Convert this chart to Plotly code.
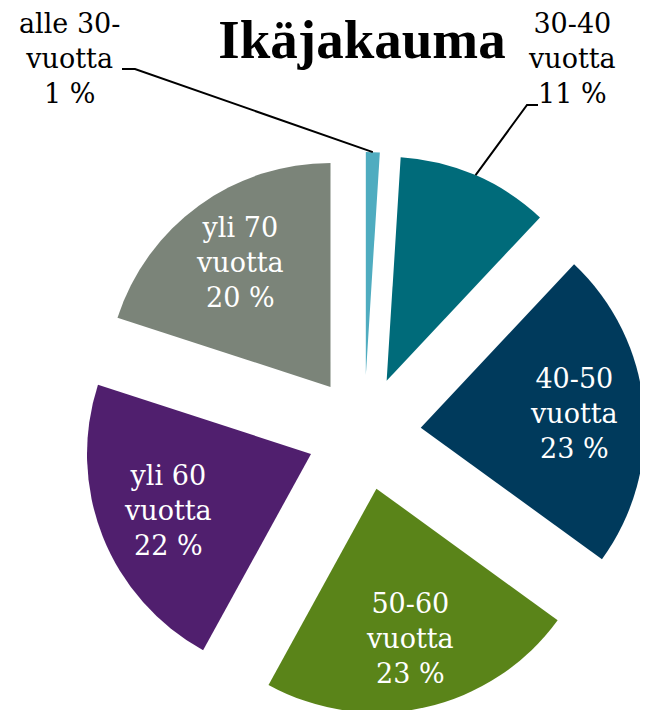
import math
import plotly.graph_objects as go

# ---- data ----
categories = ["alle 30-", "30-40", "40-50", "50-60", "yli 60", "yli 70"]
unit_word = "vuotta"
shares = [1, 11, 23, 23, 22, 20]
colors = ["#4FACC0", "#006B7A", "#003A5C", "#5A8419", "#501F6E", "#7B8479"]
title_text = "Ikäjakauma"
outside_cats = ["alle 30-", "30-40"]

# ---- layout geometry (page body adds an 8px offset) ----
W, H = 640, 710
PULL = 0.2545
DOM_X = [72 / W, 1.0]
DOM_Y = [1 - 706 / H, 1 - 144 / H]
LABEL_FRAC = 0.685   # inside label distance from slice apex, in radii

labels_txt = [f"{c}<br>{unit_word}<br>{v} %" for c, v in zip(categories, shares)]

fig = go.Figure(go.Pie(
    labels=categories,
    values=shares,
    textinfo="none",
    marker=dict(colors=colors, line=dict(width=0)),
    pull=[PULL] * len(shares),
    sort=False,
    direction="clockwise",
    rotation=0,
    domain=dict(x=DOM_X, y=DOM_Y),
    hoverinfo="label+percent",
    showlegend=False,
))

# same scaling rule plotly uses for pies
box_w = W * (DOM_X[1] - DOM_X[0])
box_h = H * (DOM_Y[1] - DOM_Y[0])
r = min(box_w, box_h) / (2 + 2 * PULL)
cx = W * (DOM_X[0] + DOM_X[1]) / 2
cy = H * (1 - DOM_Y[0]) - box_h / 2
total = sum(shares)


def mid_angle(idx):
    start = sum(shares[:idx]) / total * 2 * math.pi
    return start + shares[idx] / total * math.pi


def point_at(idx, frac):
    a = mid_angle(idx)
    dist = r * PULL + r * frac
    return cx + dist * math.sin(a), cy - dist * math.cos(a)


def px2paper(x, y):
    return x / W, 1 - y / H


shapes = []
annotations = []
label_pos = {"alle 30-": (61, 50, (114, 61), (127, 61)),
             "30-40": (564, 50, (530, 97), (519, 97))}
for i, c in enumerate(categories):
    if c in outside_cats:
        lx, ly, p0, p1 = label_pos[c]
        ax, ay = px2paper(lx, ly)
        annotations.append(dict(
            text=labels_txt[i], x=ax, y=ay, xref="paper", yref="paper",
            xanchor="center", yanchor="middle", showarrow=False, align="center",
            font=dict(family="DejaVu Serif", size=27, color="black")))
        ex, ey = point_at(i, 1.0)
        pts = [px2paper(*p0), px2paper(*p1), px2paper(ex, ey)]
        path = "M {} {} L {} {} L {} {}".format(*[v for p in pts for v in p])
        shapes.append(dict(type="path", path=path, xref="paper", yref="paper",
                           line=dict(color="black", width=2)))
    else:
        tx, ty = point_at(i, LABEL_FRAC)
        ax, ay = px2paper(tx, ty)
        annotations.append(dict(
            text=labels_txt[i], x=ax, y=ay, xref="paper", yref="paper",
            xanchor="center", yanchor="middle", showarrow=False, align="center",
            font=dict(family="DejaVu Serif", size=27, color="white")))

fig.update_layout(
    width=W, height=H,
    margin=dict(l=0, r=0, t=0, b=0),
    paper_bgcolor="white",
    plot_bgcolor="white",
    title=dict(text=title_text, x=354 / W, xanchor="center",
               y=1 - 31 / H, yanchor="middle", yref="container",
               font=dict(family="Liberation Serif", size=55, color="black", weight="bold")),
    shapes=shapes,
    annotations=annotations,
)

fig.write_html("out.html")
